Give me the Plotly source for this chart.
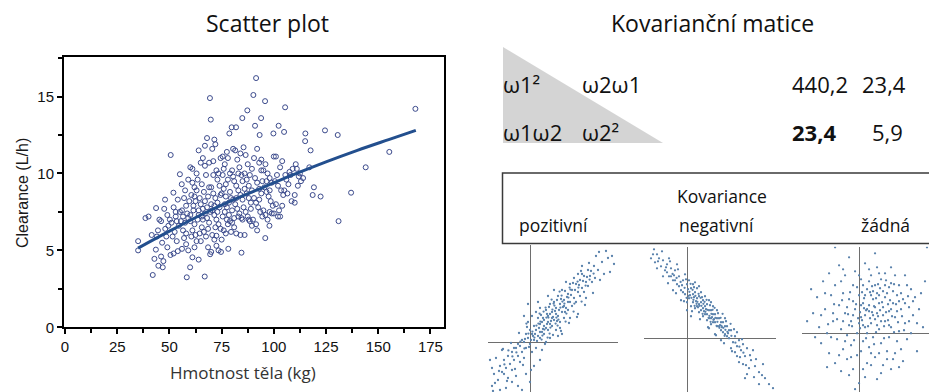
import plotly.graph_objects as go

W, H = 929, 392

# ---------------- data ----------------
# Main scatter: body weight (kg) vs clearance (L/h)
weight_clearance = [
    (35,5.0),(35,5.6),(38.5,7.1),(40,7.2),
    (42,3.4),(42.8,4.45),(43.5,5.05),(44,5.9),(44.7,4.0),(43.6,7.75),(45.2,7.0),(44.5,6.3),(41.5,6.0),
    (46.8,3.9),(47.1,4.3),(46,4.6),(47.9,8.3),(46.5,5.5),(48,6.4),(49,7.3),(47.5,7.7),(48.5,5.9),(49.5,6.6),(46,6.9),(49,5.2),
    (50.6,11.2),(51.9,8.75),(52,7.8),(53,7.2),(51,6.8),(52.5,6.2),(53.5,5.6),(50.5,4.7),(54,4.95),(51.5,5.9),(53,7.5),(54.5,6.6),(52,4.8),(54,8.3),(50.2,7.0),(53.5,6.9),
    (55,9.95),(55.9,9.3),(57,8.4),(58,7.9),(56,7.6),(59,7.1),(57.5,6.8),(56.5,6.3),(58.3,3.25),(59.9,3.9),(58,5.4),(59,5.0),(57,5.8),(56,5.1),(55.5,6.9),(59.5,8.2),(58.5,7.4),(57.5,8.9),(59,9.6),(56.5,7.2),(55,7.5),(58,6.1),
    (60,10.4),(61,10.3),(62,9.1),(61,9.4),(60.5,8.6),(63,8.9),(62.5,8.2),(61.5,7.9),(64,7.6),(60,7.3),(63.5,7.0),(62,6.7),(61,6.3),(64.5,6.1),(60.5,5.9),(63,5.6),(61,4.55),(64,4.4),(62,5.2),(64,11.5),(63,10.0),(62,8.5),(60,6.9),(64.5,8.4),(63.5,9.6),(61.5,7.6),(62.5,6.0),(64,7.3),
    (65,10.7),(66,11.0),(67,10.5),(68,12.3),(69.4,14.9),(69.8,13.5),(66.9,3.3),(65.5,9.3),(66.5,8.8),(67.5,9.9),(68.5,8.5),(69,9.1),(65,8.0),(66,7.7),(67,7.4),(68,7.1),(69,6.8),(65.5,6.5),(66.5,6.2),(67.5,5.9),(68.5,5.2),(69.5,4.75),(70,4.9),(65,5.6),(67,8.2),(68,7.8),(69.5,7.5),(66,7.0),(69,10.7),(67,11.8),(68.5,6.4),(65.5,7.2),
    (70.5,11.6),(71.5,12.2),(72,11.9),(71,10.8),(72.5,10.2),(73.5,10.0),(74.5,11.0),(70,9.1),(71,8.7),(72,8.4),(73,8.1),(74,7.8),(70.5,7.6),(71.5,7.3),(72.5,7.0),(73.5,6.7),(74.5,6.4),(70.5,6.0),(71.5,5.7),(72.5,5.3),(73.5,5.0),(74.7,4.9),(73,9.6),(74,9.2),(71,9.9),(72,6.5),(70,8.0),(73,7.5),(74.5,8.6),(71.5,7.9),(72.5,5.95),
    (75.5,11.1),(76.5,10.6),(77.5,11.4),(78.7,12.6),(79.8,13.0),(78.2,5.1),(75,5.7),(76,6.3),(77,6.1),(78,6.7),(79,6.9),(75.5,7.2),(76.5,7.5),(77.5,7.8),(78.5,8.1),(79.5,8.4),(75,8.7),(76,9.0),(77,9.3),(78,9.6),(79,10.0),(75.5,9.9),(76.5,8.0),(77.5,7.0),(78.5,7.3),(79.5,6.2),(76,10.3),(78,11.0),(79,8.8),(77,8.5),
    (81.9,13.0),(84.9,13.6),(80.5,11.6),(81.5,11.5),(82.5,10.9),(83.5,10.4),(84.5,9.9),(80,10.2),(81,9.5),(82,9.2),(83,8.9),(84,8.6),(80.5,8.3),(81.5,8.0),(82.5,7.7),(83.5,7.4),(84.5,7.1),(80,6.8),(81,6.5),(82,6.1),(83,7.2),(84.5,4.85),(84,6.0),(80,7.6),(82,8.4),(83,10.0),(84,11.3),(81,7.1),(85,7.0),(80.5,9.8),
    (87.3,14.1),(85.5,11.7),(86.5,11.2),(87.5,10.6),(88.5,9.9),(89.5,10.3),(85,9.5),(86,9.0),(87,8.7),(88,8.4),(89,8.1),(85.5,7.8),(86.5,7.5),(87.5,7.2),(88.5,6.9),(89.5,6.6),(86,6.0),(88,7.0),(89,7.7),(85,8.3),(87,9.6),(88,9.2),(86,10.0),(89.5,8.9),
    (91.5,16.2),(90.2,15.1),(91,13.1),(93.9,13.6),(93.2,12.5),(92,11.6),(90.5,11.0),(93,10.7),(94,10.2),(91,9.7),(92,9.4),(93,9.0),(94,8.7),(90.5,8.4),(91.5,8.1),(92.5,7.8),(93.5,7.5),(94.5,7.2),(90,7.0),(91.5,6.7),(93,8.3),(94.5,9.5),(92,6.3),(94,10.9),
    (95.8,14.7),(96,10.6),(97,10.0),(98,9.7),(99,9.4),(95.5,9.1),(96.5,8.8),(97.5,8.5),(98.5,8.2),(99.5,7.9),(95,7.6),(96,7.3),(97,7.0),(98,7.5),(95.9,5.8),(97.9,6.6),(99.8,12.6),(100,11.1),(96.5,9.5),(98,8.9),(99,7.4),(95,10.2),
    (102.3,13.1),(104.9,12.7),(101,11.1),(104,10.8),(103,10.4),(101.5,9.9),(100.5,9.5),(102,9.2),(103.5,8.9),(104.5,8.6),(101,8.0),(102.5,7.6),(100,7.4),(103,7.2),(104,7.9),(102,7.2),
    (105.4,14.3),(105,8.9),(106,9.6),(107,9.3),(108,9.9),(109,10.3),(106.5,8.7),(108.5,8.2),(110,8.1),(105.5,9.9),(107.5,10.1),
    (110.5,10.6),(111,10.3),(112,9.8),(113,9.5),(114,9.7),(110,8.6),(111.5,9.2),(112.5,10.0),
    (115.1,12.6),(115,12.1),(117.6,11.5),(118.6,8.6),(119.2,9.1),(122.4,8.5),(124.5,12.8),(130.6,12.5),
    (131,6.9),(137,8.75),(144,10.4),(155.3,11.4),(167.8,14.2),(117,10.4),
]

# Fitted trend line
trend_weight = [35, 50, 65, 80, 95, 110, 125, 140, 155, 168]
trend_clearance = [5.15, 6.25, 7.3, 8.25, 9.1, 9.95, 10.75, 11.5, 12.2, 12.8]

x_ticks = [0, 25, 50, 75, 100, 125, 150, 175]
y_ticks = [0, 5, 10, 15]

# Covariance matrix
matrix_symbols = [["ω1²", "ω2ω1"], ["ω1ω2", "ω2²"]]
matrix_values = [["440,2", "23,4"], ["<b>23,4</b>", "5,9"]]

# Illustration panels (standardised units)
positive_cov = [
    (-1.9,-2.2),(-1.8,-1.6),(-1.6,-1.9),(-1.5,-1.2),(-1.4,-1.5),(-1.3,-0.9),(-1.2,-1.3),(-1.1,-0.7),(-1.0,-1.1),(-0.9,-0.5),
    (-0.8,-0.9),(-0.7,-0.3),(-0.6,-0.7),(-0.5,-0.2),(-0.4,-0.5),(-0.3,0.0),(-0.2,-0.3),(-0.1,0.2),(0.0,-0.1),(0.1,0.4),
    (0.2,0.1),(0.3,0.6),(0.4,0.3),(0.5,0.9),(0.6,0.5),(0.7,1.1),(0.8,0.7),(0.9,1.3),(1.0,0.9),(1.1,1.5),(1.2,1.1),(1.3,1.7),
    (1.4,1.3),(1.5,1.9),(1.6,1.5),(1.7,2.1),(1.8,1.7),(1.9,2.4),(2.0,2.0),(2.1,2.6),(2.2,2.2),(2.3,2.9),(2.4,2.5),(2.5,3.1),
    (2.6,2.7),(2.7,3.3),(2.8,3.0),(2.9,3.6),(3.0,3.3),(3.2,3.8),(3.4,3.6),(3.6,4.0),(3.9,4.2),(4.1,4.3),(3.7,3.4),(4.0,3.5),
    (0.2,0.8),(0.4,1.2),(0.6,1.0),(0.3,-0.3),(0.5,0.2),(0.7,0.4),(0.9,0.6),(1.1,0.8),(0.8,1.6),(1.0,1.9),(1.2,2.0),(1.4,2.3),
    (1.6,2.6),(1.3,0.6),(1.5,1.0),(1.7,1.2),(1.9,1.6),(2.1,1.8),(2.3,2.0),(2.0,2.9),(2.2,3.2),(2.4,3.4),(2.6,3.8),(2.5,2.3),
    (2.7,2.5),(2.9,2.8),(3.1,3.0),(0.0,0.6),(-0.2,0.4),(0.1,-0.5),(-0.4,0.1),(-0.6,-0.1),(-0.8,-0.3),(-0.5,-1.0),(-0.3,-0.8),
    (-0.9,-1.4),(-1.1,-1.8),(-1.3,-1.6),(-1.7,-0.8),(-1.4,-0.4),(-0.1,1.0),(0.3,1.5),(0.5,1.7),(-0.7,-1.7),(0.2,-1.2),
    (-0.2,-1.6),(1.6,0.4),(2.4,1.4),(-1.9,-1.3),(-1.5,-2.4),(-0.9,-2.0),(0.0,-2.0),(-0.4,-2.4),(-0.3,1.3),(1.8,3.0),(2.6,3.4),
    (3.3,4.3),(2.0,1.2),(1.0,0.2),(0.6,-0.4),(0.9,2.3),(1.2,2.6),(-0.1,1.9),(0.4,2.0),(1.4,0.3),(3.5,3.1),(2.8,2.2),(0.8,0.0),
    (1.5,0.7),(1.7,1.8),(1.1,1.2),(0.7,0.8),(0.5,0.5),(1.3,1.4),(1.9,2.0),(1.0,1.4),(0.9,1.0),
    (0.1,1.3),(0.35,0.05),(0.55,1.35),(0.75,-0.1),(0.95,1.75),(1.15,0.35),(1.35,2.1),(1.55,0.55),(1.75,2.55),(1.95,0.95),
    (2.15,2.95),(2.35,1.25),(2.55,3.55),(2.75,1.85),(2.95,3.95),(3.15,2.45),(-0.15,0.75),(-0.35,-1.15),(-0.55,0.45),
    (-0.75,-1.35),(-0.95,-0.05),(-1.15,-1.95),(-1.35,-0.35),(-1.55,-1.45),(-1.75,-2.05),(0.15,0.3),(0.45,0.7),(0.65,1.2),
    (0.85,0.9),(1.05,1.05),(1.25,1.55),(1.45,1.6),(1.65,1.75),(1.85,2.25),(2.05,2.35),(2.25,2.6),(0.05,0.1),(0.25,0.4),
    (-0.05,-0.25),(-0.25,0.15),(1.15,1.25),(1.35,1.05),(0.85,1.4),(0.65,0.65),(1.55,2.15),(1.75,1.5),(2.45,2.85),(2.65,3.05),
    (2.85,3.25),(3.05,3.55),(3.25,3.2),(3.45,4.5),(3.8,4.55),(4.2,3.9),(-2.0,-0.9),(-1.85,-2.45),(-1.2,-2.3),(-0.6,-2.2),
    (0.05,-1.4),(0.5,-0.9),
    (0.12,0.52),(0.32,0.82),(0.52,1.02),(0.72,0.62),(0.92,1.22),(1.12,1.62),(1.32,1.22),(1.52,1.72),(1.72,1.92),(1.92,2.22),
    (0.22,0.22),(0.42,0.92),(0.62,0.32),(0.82,1.22),(1.02,0.72),(1.22,1.82),(1.42,1.12),(1.62,2.02),(1.82,1.42),(2.02,2.62),
    (2.22,1.92),(2.42,2.72),(-0.08,0.42),(-0.28,-0.32),(-0.48,0.02),(-0.68,-0.52),(0.58,0.12),(0.78,1.72),(0.98,0.42),
    (1.18,1.92),(1.38,0.82),(1.58,2.32),(1.78,1.02),(1.98,2.72),(2.18,1.52),(2.38,3.02),(0.48,1.42),(0.68,1.52),(0.88,0.22),
    (1.08,2.12),(1.28,0.92),(1.48,2.52),(2.58,2.02),(2.78,2.82),(2.98,3.12),(3.18,3.42),(-1.08,-0.42),(-1.28,-1.12),
    (-0.88,-0.72),(-0.18,0.92),
]

negative_cov = [
    (-1.7,4.2),(-1.5,4.2),(-1.6,3.8),(-1.4,4.0),(-1.3,3.6),(-1.2,3.9),(-1.1,3.4),(-1.0,3.7),(-0.9,3.1),(-0.8,3.5),(-0.7,2.9),
    (-0.6,3.4),(-0.5,2.7),(-0.4,3.1),(-0.3,2.4),(-0.2,2.9),(-0.1,2.2),(0.0,2.7),(0.1,2.0),(0.2,2.5),(0.3,1.8),(0.4,2.3),
    (0.5,1.6),(0.6,2.1),(0.7,1.4),(0.8,1.9),(0.9,1.2),(1.0,1.7),(1.1,1.0),(1.2,1.4),(1.3,0.8),(1.4,1.2),(1.5,0.6),(1.6,1.0),
    (1.7,0.4),(1.8,0.8),(1.9,0.2),(2.0,0.6),(2.1,0.0),(2.2,0.4),(2.3,-0.2),(2.4,0.1),(2.5,-0.4),(2.6,-0.1),(2.7,-0.6),
    (2.8,-0.3),(2.9,-0.9),(3.0,-0.5),(3.2,-1.1),(3.4,-1.4),(3.6,-1.7),(3.9,-2.0),(4.1,-2.3),(3.3,-0.6),(3.1,-1.5),(2.6,-1.2),
    (0.0,1.8),(0.2,1.6),(0.4,1.5),(0.6,1.3),(0.8,1.1),(1.0,0.9),(1.2,0.7),(0.1,2.9),(0.3,2.7),(0.5,2.5),(0.7,2.3),(0.9,2.1),
    (1.1,1.9),(1.3,1.6),(1.5,1.4),(0.3,2.2),(0.5,2.0),(0.7,1.8),(0.9,1.6),(1.1,1.4),(1.3,1.2),(1.5,1.0),(1.7,0.8),(1.9,0.6),
    (2.1,0.4),(-0.2,2.3),(-0.4,2.6),(-0.6,2.9),(-0.8,3.1),(-1.0,3.3),(-0.5,3.7),(-0.9,4.0),(-1.2,3.1),(0.6,1.7),(0.8,1.5),
    (1.0,1.2),(1.2,1.0),(1.4,0.8),(1.6,0.6),(1.8,0.3),(2.0,0.1),(2.2,-0.5),(2.4,-0.7),(1.7,-0.1),(1.4,0.2),(2.8,-1.3),
    (3.0,-1.8),(2.5,0.3),(1.9,1.0),(0.4,2.8),(-0.1,3.2),(0.0,1.4),(-0.3,1.9),(1.1,0.5),(0.2,1.1),(3.6,-2.3),(3.8,-1.3),
    (2.9,-2.0),(-1.5,3.5),(-0.7,2.4),
    (-1.65,4.45),(-1.25,4.35),(-0.85,3.85),(-0.45,3.45),(-0.05,2.95),(0.35,2.55),(0.75,2.05),(1.15,1.65),(1.55,1.25),
    (1.95,0.85),(2.35,0.45),(2.75,-0.05),(-0.95,2.75),(-0.55,2.25),(-0.15,1.85),(0.25,1.35),(0.65,0.95),(1.05,0.55),
    (1.45,0.15),(1.85,-0.25),(2.25,-0.65),(2.65,-0.95),(0.15,2.15),(0.45,1.85),(0.85,1.35),(1.25,1.05),(1.65,0.65),
    (2.05,0.25),(0.55,1.55),(0.95,1.45),(1.35,0.95),(1.75,0.55),(0.35,2.05),(0.05,2.45),(-0.25,2.65),(-0.65,3.15),
    (-1.05,3.55),(-1.45,3.85),(3.15,-0.85),(3.45,-1.05),(3.75,-1.85),(4.3,-2.5),(3.35,-1.95),(2.95,-1.35),(-1.8,4.0),
    (1.2,1.8),(0.6,2.6),(2.5,-0.9),
    (0.12,2.32),(0.32,1.92),(0.52,1.82),(0.72,1.62),(0.92,1.32),(1.12,1.12),(1.32,0.92),(1.52,0.82),(1.72,0.62),(1.92,0.42),
    (0.22,2.02),(0.42,2.12),(0.62,1.62),(0.82,1.72),(1.02,1.42),(1.22,1.22),(1.42,1.02),(1.62,0.52),(1.82,0.52),(2.02,0.32),
    (0.08,2.12),(0.28,2.42),(0.48,1.72),(0.68,2.02),(0.88,1.82),(1.08,1.02),(1.28,1.42),(1.48,0.62),(1.68,1.02),(1.88,0.12),
    (-0.12,2.52),(-0.32,2.82),(-0.52,3.02),(-0.72,3.22),(2.22,0.12),(2.42,-0.22),(2.62,-0.42),(2.82,-0.72),(0.18,2.72),
    (0.58,2.22),(0.98,1.92),(1.38,1.52),(1.78,1.22),(2.18,0.72),(-0.02,2.02),(0.38,1.62),(0.78,1.22),(1.18,0.82),
]

no_cov = [
    (-2.3,1.0),(-2.0,0.3),(-2.1,1.8),(-1.9,-0.5),(-1.8,2.6),(-1.7,1.2),(-1.6,0.0),(-1.5,3.0),(-1.5,-1.0),(-1.4,1.9),
    (-1.3,0.6),(-1.2,-1.5),(-1.2,2.4),(-1.1,-0.3),(-1.0,1.4),(-1.0,3.4),(-0.9,0.2),(-0.9,-1.9),(-0.8,2.0),(-0.8,-0.8),
    (-0.7,1.0),(-0.7,2.9),(-0.6,-0.1),(-0.6,-1.3),(-0.5,1.7),(-0.5,3.8),(-0.4,0.6),(-0.4,-0.6),(-0.3,2.4),(-0.3,-1.8),
    (-0.2,1.2),(-0.2,3.1),(-0.1,0.0),(-0.1,-1.1),(0.0,1.9),(0.0,-2.5),(0.1,0.8),(0.1,2.7),(0.2,-0.4),(0.2,1.5),(0.3,3.5),
    (0.3,0.3),(0.4,-1.5),(0.4,2.2),(0.5,1.1),(0.5,-0.7),(0.6,2.9),(0.6,0.5),(0.7,1.7),(0.7,-0.2),(0.8,2.4),(0.8,-1.2),
    (0.9,1.0),(0.9,3.3),(1.0,0.2),(1.0,1.9),(1.1,-0.5),(1.1,2.7),(1.2,1.3),(1.2,-1.6),(1.3,0.6),(1.3,3.0),(1.4,2.0),
    (1.4,-0.9),(1.5,1.1),(1.5,-0.2),(1.6,2.5),(1.6,0.3),(1.7,1.5),(1.7,-1.3),(1.8,2.9),(1.8,0.8),(1.9,-0.4),(1.9,1.9),
    (2.0,0.1),(2.0,2.4),(2.1,1.2),(2.1,-0.8),(2.2,1.7),(2.3,0.5),(2.3,2.9),(2.4,-0.3),(2.5,1.3),(2.6,2.2),(2.6,0.0),
    (2.7,0.9),(2.8,1.8),(2.9,-0.9),(3.0,1.2),(3.2,0.3),(3.3,2.6),(-0.2,-2.8),(0.3,-2.2),(-2.6,0.6),(3.4,4.3),(-1.2,4.3),
    (0.8,4.0),(0.3,0.9),(0.5,1.4),(0.8,0.7),(1.0,1.5),(0.6,1.9),(0.2,0.4),(1.2,0.9),(0.4,1.2),(0.9,0.4),(0.7,2.1),
    (1.3,1.8),(0.1,1.4),(-0.3,0.9),(1.5,2.3),(0.0,0.5),(0.6,-1.0),(1.1,-2.0),(-0.5,-2.1),(1.6,-1.8),(2.2,-1.4),(-1.6,-1.7),
    (0.9,-2.3),
    (-2.4,2.2),(-2.2,-0.2),(-1.9,0.9),(-1.7,2.0),(-1.4,-0.2),(-1.1,0.7),(-0.9,2.6),(-0.7,-0.4),(-0.5,0.4),(-0.3,1.6),
    (-0.1,2.3),(0.1,-0.9),(0.3,1.9),(0.5,2.6),(0.7,0.9),(0.9,2.0),(1.1,0.6),(1.3,2.4),(1.5,0.4),(1.7,2.1),(1.9,1.1),
    (2.1,2.0),(2.3,1.5),(2.5,0.6),(2.7,1.6),(2.9,0.5),(3.1,2.0),(-0.6,1.3),(0.0,2.9),(0.4,0.0),(0.8,1.3),(1.2,2.1),
    (1.6,1.2),(2.0,1.6),(2.4,2.4),(0.2,2.4),(-0.8,0.6),(1.0,-1.0),(0.6,-1.6),(-0.4,-1.2),(1.4,-1.3),(1.8,-1.0),(2.0,-1.7),
    (0.2,-1.8),(-1.0,-1.1),(-1.3,1.0),(0.5,3.2),(1.0,3.0),(1.6,3.3),(-0.8,3.2),
    (0.15,0.65),(0.35,1.15),(0.55,0.75),(0.75,1.35),(0.95,0.85),(1.15,1.55),(1.35,1.05),(1.55,1.65),(-0.15,1.45),
    (-0.35,0.35),(0.05,1.05),(0.25,1.75),(0.45,0.35),(0.65,2.35),(0.85,0.05),(1.05,2.25),(1.25,0.35),(1.45,1.45),
    (1.65,0.85),(1.85,1.45),(-0.55,0.95),(-0.45,2.05),(0.15,2.05),(0.55,2.05),(0.95,2.45),(1.35,2.65),(1.75,2.45),
    (2.15,0.85),(2.45,1.85),(-0.25,-0.35),(0.35,-0.25),(0.75,-0.55),(1.25,-0.25),(1.75,0.05),(2.25,0.15),(-0.85,1.65),
    (-1.25,1.45),(-1.55,0.45),(0.05,0.25),(1.05,1.15),(0.65,1.05),(0.85,1.75),(0.25,1.25),(1.45,0.65),(1.95,0.55),
    (-0.05,0.75),
]

panel_labels = ["pozitivní", "negativní", "žádná"]

# ---------------- helpers ----------------
def px(x):
    return x / W

def py(y):
    return 1 - y / H

TEXT_FONT = "Open Sans"
ARIAL = "Liberation Sans"
MARK = "#3b4a8c"
LINE = "#234f8e"
DOT = "#5a82ac"

fig = go.Figure()

fig.add_trace(go.Scatter(
    x=[p[0] for p in weight_clearance], y=[p[1] for p in weight_clearance],
    mode="markers",
    marker=dict(symbol="circle-open", size=5, color=MARK, line=dict(width=1.0, color=MARK)),
    xaxis="x", yaxis="y", showlegend=False, hoverinfo="skip"))
fig.add_trace(go.Scatter(
    x=trend_weight, y=trend_clearance, mode="lines",
    line=dict(color=LINE, width=3, shape="spline"),
    xaxis="x", yaxis="y", showlegend=False, hoverinfo="skip"))

for i, pts in enumerate([positive_cov, negative_cov, no_cov], start=2):
    fig.add_trace(go.Scatter(
        x=[p[0] for p in pts], y=[p[1] for p in pts], mode="markers",
        marker=dict(size=2.3, color=DOT),
        xaxis=f"x{i}", yaxis=f"y{i}", showlegend=False, hoverinfo="skip"))

axis_common = dict(showline=True, linecolor="black", linewidth=2, mirror=True,
                   showgrid=False, zeroline=False, ticks="outside", ticklen=5,
                   tickwidth=1.5, tickcolor="black", automargin=False,
                   tickfont=dict(family=ARIAL, size=15, color="#111"))

small = dict(showgrid=False, showline=False, showticklabels=False, ticks="",
             zeroline=True, zerolinecolor="#6e6e6e", zerolinewidth=1, automargin=False)

fig.update_layout(
    width=W, height=H,
    margin=dict(l=0, r=0, t=0, b=0, autoexpand=False),
    paper_bgcolor="white", plot_bgcolor="white",
    xaxis=dict(axis_common, domain=[px(64), px(444)], range=[-0.5, 181.5],
               tickvals=x_ticks, anchor="y",
               minor=dict(ticks="outside", dtick=12.5, tick0=0, ticklen=4, tickcolor="black")),
    yaxis=dict(axis_common, domain=[py(327.3), py(57)], range=[0, 17.57],
               tickvals=y_ticks, anchor="x",
               minor=dict(ticks="outside", dtick=2.5, tick0=0, ticklen=4, tickcolor="black")),
    xaxis2=dict(small, domain=[px(488), px(618)], range=[-2.1, 4.4], anchor="y2"),
    yaxis2=dict(small, domain=[0, py(245)], range=[-2.5, 4.85], anchor="x2"),
    xaxis3=dict(small, domain=[px(644), px(776)], range=[-2.15, 4.45], anchor="y3"),
    yaxis3=dict(small, domain=[0, py(246.7)], range=[-2.69, 4.58], anchor="x3"),
    xaxis4=dict(small, domain=[px(802.3), 1], range=[-2.84, 3.5], anchor="y4"),
    yaxis4=dict(small, domain=[0, py(246.7)], range=[-2.94, 4.33], anchor="x4"),
)

shapes = [
    dict(type="path", xref="paper", yref="paper",
         path=f"M {px(503)} {py(47)} L {px(503)} {py(143)} L {px(663)} {py(143)} Z",
         fillcolor="#d4d4d4", line=dict(width=0), layer="below"),
    dict(type="rect", xref="paper", yref="paper",
         x0=px(502.5), x1=px(940), y0=py(243.5), y1=py(173),
         line=dict(color="#3a3a3a", width=1.5), fillcolor="rgba(0,0,0,0)"),
]
fig.update_layout(shapes=shapes)

ann = []
def text(x, y, s, size, xanchor="left", family=TEXT_FONT, color="#111", angle=0):
    ann.append(dict(x=px(x), y=py(y), xref="paper", yref="paper", text=s,
                    showarrow=False, xanchor=xanchor, yanchor="middle", textangle=angle,
                    font=dict(family=family, size=size, color=color)))

text(267, 23, "Scatter plot", 23, "center")
text(712, 23, "Kovarianční matice", 23, "center")

# axis titles
text(243, 372, "Hmotnost těla (kg)", 17, "center", color="#333")
text(22, 193, "Clearance (L/h)", 16, "center", family=ARIAL, color="#1a1a1a", angle=-90)

row_y = [84, 132]
for r in range(2):
    text(501, row_y[r], matrix_symbols[r][0], 22)
    text(580, row_y[r], matrix_symbols[r][1], 22)
val_x = [[790, 860], [790, 870]]
for r in range(2):
    for c in range(2):
        text(val_x[r][c], row_y[r], matrix_values[r][c], 22)

text(722, 196, "Kovariance", 17.5, "center")
text(553, 225, panel_labels[0], 17.5, "center")
text(716, 225, panel_labels[1], 17.5, "center")
text(885, 225, panel_labels[2], 17.5, "center")

fig.update_layout(annotations=ann)

fig.write_html(
    "out.html",
    config={"displayModeBar": False},
    post_script="document.body.style.margin='0';document.body.style.padding='0';"
                "document.body.style.overflow='hidden';",
)
